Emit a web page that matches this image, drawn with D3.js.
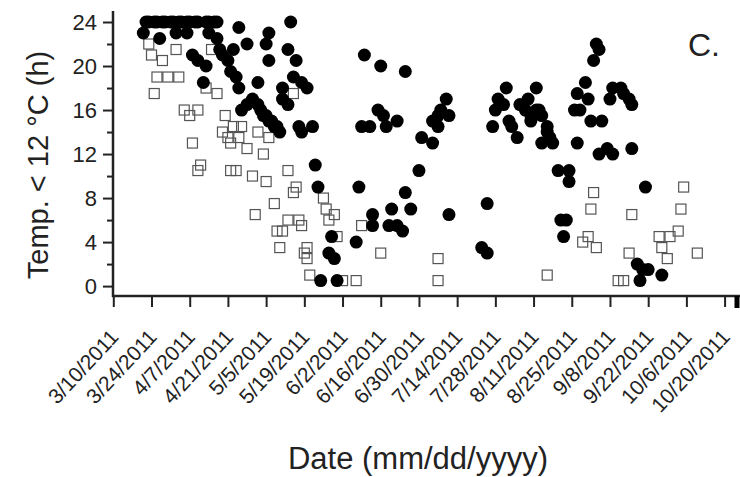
<!DOCTYPE html>
<html lang="en">
<head>
<meta charset="utf-8">
<title>Temp. below 12 C</title>
<script src="https://d3js.org/d3.v7.min.js"></script>
<style>
  body { margin: 0; background: #fff; }
  svg { display: block; font-family: "Liberation Sans", Arial, sans-serif; }
</style>
</head>
<body>
<script>
// filled circles
var filledDates = ["3/21","3/22","3/23","3/25","3/26","3/27","3/28","3/29","3/31","4/1","4/2","4/3","4/4","4/6","4/6","4/7","4/8","4/9","4/10","4/10",
  "4/12","4/13","4/13","4/14","4/14","4/16","4/17","4/17","4/18","4/19","4/21","4/22","4/23","4/24","4/25","4/25","4/26","4/28","4/28","4/30",
  "5/2","5/2","5/3","5/4","5/5","5/5","5/6","5/6","5/6","5/7","5/8","5/9","5/10","5/11","5/11","5/13","5/13","5/14","5/15","5/16",
  "5/17","5/18","5/18","5/20","5/22","5/23","5/24","5/25","5/28","5/29","5/30","5/31","6/7","6/8","6/9","6/10","6/12","6/13","6/13","6/15",
  "6/16","6/17","6/18","6/19","6/20","6/22","6/22","6/24","6/25","6/25","6/27","6/30","7/1","7/5","7/5","7/7","7/7","7/8","7/10","7/11",
  "7/11","7/23","7/25","7/25","7/27","7/28","7/29","7/31","8/1","8/2","8/3","8/5","8/6","8/8","8/9","8/10","8/10","8/12","8/12","8/13",
  "8/14","8/14","8/16","8/16","8/17","8/18","8/20","8/21","8/22","8/23","8/24","8/24","8/26","8/27","8/27","8/28","8/30","8/31","9/1","9/2",
  "9/3","9/4","9/4","9/5","9/7","9/8","9/9","9/9","9/12","9/13","9/15","9/16","9/16","9/18","9/19","9/20","9/21","9/22","9/27"];
var filledHours = [23,24,24,24,24,22.5,24,24,24,24,23,24,24,24,23,24,21,24,24,20.5,
  18.5,24,20,24,23,24,24,22.5,21.5,21,20.5,19.5,21.5,19,23.5,18,16,22,16.5,17,
  16.5,18.5,16,15.5,15.5,22,15,23,20.5,15,14.5,14.5,14,18,17,21.5,16.5,24,19,20.5,
  14.5,18.5,14,18,14.5,11,9,0.5,3,4.5,2.5,0.5,4,9,14.5,21,14.5,6.5,5.5,16,
  20,15.5,14.5,5.5,7,15,5.5,5,19.5,8.5,7,10.5,13.5,13,15,14.5,15.5,16,17,15.5,
  6.5,3.5,3,7.5,14.5,16,17,16.5,18,15,14.5,13.5,16.5,16,17,15,15.5,18,16,16,
  15.5,13,14.5,14,13.5,13,10.5,6,4.5,6,10.5,9.5,16,13,17.5,16,18.5,17,15,20.5,
  22,21.5,12,15,12.5,17,12,18,18,17.5,17,16.5,12.5,2,0.5,1.5,9,1.5,1];

// open squares
var openDates = ["3/23","3/24","3/25","3/26","3/28","3/30","4/2","4/3","4/5","4/7","4/8","4/10","4/10","4/11","4/13","4/15","4/17","4/19","4/20","4/21",
  "4/22","4/22","4/23","4/24","4/25","4/26","4/28","4/30","5/1","5/2","5/4","5/5","5/6","5/8","5/9","5/10","5/11","5/13","5/13","5/15",
  "5/15","5/16","5/17","5/18","5/19","5/20","5/20","5/21","5/26","5/27","5/28","5/30","5/31","6/2","6/7","6/9","6/16","7/7","7/7","8/16",
  "8/29","8/31","9/1","9/2","9/3","9/11","9/13","9/15","9/16","9/26","9/27","9/29","9/30","10/3","10/4","10/5","10/10"];
var openHours = [22,21,17.5,19,20.5,19,21.5,19,16,15.5,13,16,10.5,11,18,21.5,17.5,14,15.5,13.5,
  13,10.5,14.5,10.5,13.5,14.5,12.5,10,6.5,14,12,9.5,13.5,7.5,5,3.5,5,10.5,6,8.5,
  17.5,9,6,5.5,3,3.5,2.5,1,8,7,6,6.5,4.5,0.5,0.5,5.5,3,2.5,0.5,1,
  4,4.5,7,8.5,3.5,0.5,0.5,3,6.5,4.5,3.5,2.5,4.5,5,7,9,3];

var xTickLabels = ["3/10/2011","3/24/2011","4/7/2011","4/21/2011","5/5/2011","5/19/2011","6/2/2011","6/16/2011","6/30/2011",
  "7/14/2011","7/28/2011","8/11/2011","8/25/2011","9/8/2011","9/22/2011","10/6/2011","10/20/2011"];
var yTicks = [0, 4, 8, 12, 16, 20, 24];
var yMinorTicks = [2, 6, 10, 14, 18, 22];

var w = 740, h = 477;
var parseDate = d3.utcParse("%m/%d/%Y");
function toDate(s) { return parseDate(s + "/2011"); }

var svg = d3.select("body").append("svg")
  .attr("width", w)
  .attr("height", h);

var xScale = d3.scaleUtc()
  .domain([toDate("3/10"), toDate("10/26")])
  .range([113.3, 113.3 + 230 * 2.729]);

var yScale = d3.scaleLinear()
  .domain([-0.9, 25])
  .range([296, 11]);

var ink = "#222";

// open squares (under the circles)
var sq = 10;
svg.append("g")
  .selectAll("rect")
  .data(openDates.map(function(d, i) { return [toDate(d), openHours[i]]; }))
  .enter()
  .append("rect")
  .attr("x", function(d) { return xScale(d[0]) - sq / 2; })
  .attr("y", function(d) { return yScale(d[1]) - sq / 2; })
  .attr("width", sq)
  .attr("height", sq)
  .attr("fill", "none")
  .attr("stroke", "#555")
  .attr("stroke-width", 1.2);

// filled circles
svg.append("g")
  .selectAll("circle")
  .data(filledDates.map(function(d, i) { return [toDate(d), filledHours[i]]; }))
  .enter()
  .append("circle")
  .attr("cx", function(d) { return xScale(d[0]); })
  .attr("cy", function(d) { return yScale(d[1]); })
  .attr("r", 6.5)
  .attr("fill", "#000");

// Y axis
var yAxis = d3.axisLeft(yScale).tickValues(yTicks).tickSize(10).tickSizeOuter(0).tickPadding(6);
var gy = svg.append("g").attr("transform", "translate(113,0)").call(yAxis);
gy.select(".domain").remove();
gy.selectAll("line").attr("stroke", ink).attr("stroke-width", 2);
gy.selectAll("text").attr("font-size", 22).attr("fill", "#222");

var gyMinor = svg.append("g").attr("transform", "translate(113,0)")
  .call(d3.axisLeft(yScale).tickValues(yMinorTicks).tickSize(6).tickSizeOuter(0).tickFormat(""));
gyMinor.select(".domain").remove();
gyMinor.selectAll("line").attr("stroke", ink).attr("stroke-width", 2);

// X axis
var xAxis = d3.axisBottom(xScale)
  .tickValues(xTickLabels.map(function(s) { return parseDate(s); }))
  .tickSize(11)
  .tickSizeOuter(0)
  .tickFormat(d3.utcFormat("%-m/%-d/%Y"));
var gx = svg.append("g").attr("transform", "translate(0,296)").call(xAxis);
gx.select(".domain").remove();
gx.selectAll("line").attr("stroke", ink).attr("stroke-width", 2);
gx.selectAll("text")
  .attr("font-size", 21)
  .attr("fill", "#222")
  .attr("text-anchor", "end")
  .attr("dy", null)
  .attr("y", 0)
  .attr("transform", "translate(6,42) rotate(-47)");

// axis lines
svg.append("line").attr("x1", 113).attr("x2", 113).attr("y1", 11).attr("y2", 297)
  .attr("stroke", ink).attr("stroke-width", 2.5);
svg.append("line").attr("x1", 112).attr("x2", w).attr("y1", 296).attr("y2", 296)
  .attr("stroke", ink).attr("stroke-width", 2.5);
svg.append("line").attr("x1", 737).attr("x2", 737).attr("y1", 296).attr("y2", 308)
  .attr("stroke", "#000").attr("stroke-width", 5);

// titles
svg.append("text")
  .attr("transform", "translate(48,165) rotate(-90)")
  .attr("text-anchor", "middle")
  .attr("font-size", 29)
  .attr("fill", "#222")
  .text("Temp. < 12 \u00B0C (h)");

svg.append("text")
  .attr("x", 418)
  .attr("y", 469)
  .attr("text-anchor", "middle")
  .attr("font-size", 31)
  .attr("fill", "#222")
  .text("Date (mm/dd/yyyy)");

svg.append("text")
  .attr("x", 688)
  .attr("y", 56)
  .attr("font-size", 32)
  .attr("fill", "#222")
  .text("C.");
</script>
</body>
</html>
